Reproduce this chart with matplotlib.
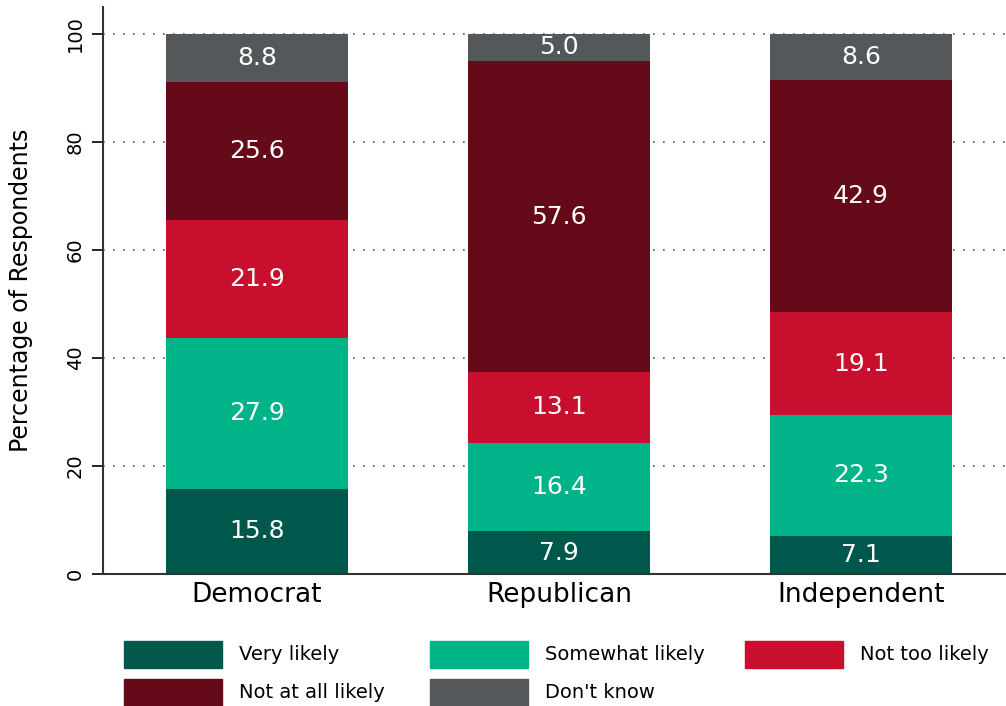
import matplotlib.pyplot as plt
from matplotlib.patches import Rectangle

plt.rcParams['font.family'] = ['DejaVu Sans']

parties = ["Democrat", "Republican", "Independent"]
categories = ["Very likely", "Somewhat likely", "Not too likely", "Not at all likely", "Don't know"]
very_likely = [15.8, 7.9, 7.1]
somewhat_likely = [27.9, 16.4, 22.3]
not_too_likely = [21.9, 13.1, 19.1]
not_at_all_likely = [25.6, 57.6, 42.9]
dont_know = [8.8, 5.0, 8.6]
colors = ["#00584d", "#00b388", "#c8102e", "#640a19", "#54585a"]

series = [very_likely, somewhat_likely, not_too_likely, not_at_all_likely, dont_know]

W, H = 1006, 706
fig = plt.figure(figsize=(W / 100, H / 100), dpi=100)
ax = fig.add_axes([103 / W, 1 - 574 / H, 903 / W, 567 / H])

x = range(len(parties))
bottom = [0, 0, 0]
for vals, col, name in zip(series, colors, categories):
    ax.bar(x, vals, width=0.6, bottom=bottom, color=col, label=name, zorder=2)
    for i, v in enumerate(vals):
        ax.text(i, bottom[i] + v / 2, f"{v:.1f}", ha="center", va="center",
                color="white", fontsize=18, zorder=3)
    bottom = [b + v for b, v in zip(bottom, vals)]

ax.set_xlim(-0.51, 2.48)
ax.set_ylim(0, 105)
ax.set_yticks([0, 20, 40, 60, 80, 100])
ax.tick_params(axis="y", labelrotation=90, labelsize=14, length=8, width=1.2, pad=5)
for lab in ax.get_yticklabels():
    lab.set_va("center")
ax.set_xticks(list(x))
ax.set_xticklabels(parties, fontsize=19)
ax.tick_params(axis="x", length=0, pad=6)
ax.yaxis.grid(True, linestyle=(0, (1, 5)), color="#555555", linewidth=1.2, zorder=0)
ax.set_axisbelow(True)
ax.spines["top"].set_visible(False)
ax.spines["right"].set_visible(False)
for s in ["left", "bottom"]:
    ax.spines[s].set_linewidth(1.5)
    ax.spines[s].set_color("#333333")
ax.set_ylabel("Percentage of Respondents", fontsize=17, labelpad=24)

# legend laid out in a 3-column grid, like the original
col_x = [124, 430, 745]
row_y = [654, 692]
for k, name in enumerate(categories):
    r, c = divmod(k, 3)
    bx, by = col_x[c], row_y[r]
    fig.add_artist(Rectangle((bx / W, 1 - (by + 13.5) / H), 98 / W, 27 / H,
                             transform=fig.transFigure, color=colors[k]))
    fig.text((bx + 115) / W, 1 - by / H, name, fontsize=14,
             ha="left", va="center")

fig.savefig("out.png", dpi=100)
